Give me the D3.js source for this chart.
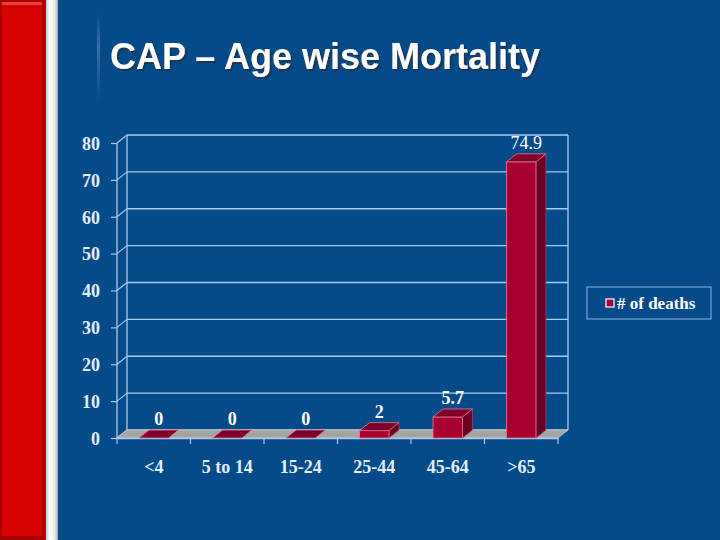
<!DOCTYPE html>
<html lang="en">
<head>
    <meta charset="UTF-8">
    <title>CAP - Age wise Mortality</title>
    <script src="https://d3js.org/d3.v7.min.js"></script>
    <style>
        body { margin: 0; background: #054a89; }
    </style>
</head>
<body>

<script>

    var categories = ["<4", "5 to 14", "15-24", "25-44", "45-64", ">65"];
    var deaths = [0, 0, 0, 2, 5.7, 74.9];
    var valueLabels = ["0", "0", "0", "2", "5.7", "74.9"];
    var yTicks = [0, 10, 20, 30, 40, 50, 60, 70, 80];
    var seriesName = "# of deaths";

    var W = 720, H = 540;
    var dx = 10, dy = -8;   // depth offset of the 3d box

    var svg = d3.select("body").append("svg")
        .attr("width", W).attr("height", H);

    // background
    svg.append("rect").attr("width", W).attr("height", H).attr("fill", "#054a89");

    var defs = svg.append("defs");
    var g1 = defs.append("linearGradient").attr("id", "sep").attr("x1", 0).attr("x2", 1);
    g1.append("stop").attr("offset", 0).attr("stop-color", "#c8c8c8");
    g1.append("stop").attr("offset", 0.3).attr("stop-color", "#ffffff");
    g1.append("stop").attr("offset", 0.7).attr("stop-color", "#f0f0f0");
    g1.append("stop").attr("offset", 1).attr("stop-color", "#a8a8a8");
    var g2 = defs.append("linearGradient").attr("id", "glow").attr("x1", 0).attr("x2", 0).attr("y1", 0).attr("y2", 1);
    g2.append("stop").attr("offset", 0).attr("stop-color", "#5a8cc0").attr("stop-opacity", 0);
    g2.append("stop").attr("offset", 0.4).attr("stop-color", "#5a8cc0").attr("stop-opacity", 0.6);
    g2.append("stop").attr("offset", 1).attr("stop-color", "#5a8cc0").attr("stop-opacity", 0);
    defs.append("filter").attr("id", "shadow")
        .append("feDropShadow").attr("dx", 2).attr("dy", 2).attr("stdDeviation", 0.6)
        .attr("flood-color", "#1e3550").attr("flood-opacity", 0.9);

    // red strip on the left
    svg.append("rect").attr("x", 0).attr("y", 0).attr("width", 46).attr("height", H).attr("fill", "#a80000");
    svg.append("rect").attr("x", 2).attr("y", 2).attr("width", 40).attr("height", H - 6).attr("fill", "#d60202");
    svg.append("rect").attr("x", 2).attr("y", 2).attr("width", 40).attr("height", 3).attr("fill", "#e84040");
    svg.append("rect").attr("x", 46).attr("y", 0).attr("width", 12).attr("height", H).attr("fill", "url(#sep)");
    svg.append("rect").attr("x", 97).attr("y", 12).attr("width", 3).attr("height", 90).attr("fill", "url(#glow)");

    // title
    svg.append("text").attr("x", 110).attr("y", 69)
        .attr("font-family", "Liberation Sans, Arial, sans-serif").attr("font-weight", "bold")
        .attr("font-size", 36).attr("fill", "#ffffff").attr("filter", "url(#shadow)")
        .text("CAP \u2013 Age wise Mortality");

    // scales (front plane)
    var x = d3.scaleBand().domain(categories).range([117, 558]);
    var y = d3.scaleLinear().domain([0, 80]).range([438, 143]);
    var barW = x.bandwidth() * 0.4;

    var gridColor = "#a9c9ee";
    var x0 = x.range()[0], x1 = x.range()[1];
    var serif = "Liberation Serif, Times New Roman, serif";

    // back wall gridlines
    svg.append("g").selectAll("line").data(yTicks).enter().append("line")
        .attr("x1", x0 + dx).attr("x2", x1 + dx)
        .attr("y1", function (d) { return y(d) + dy; })
        .attr("y2", function (d) { return y(d) + dy; })
        .attr("stroke", gridColor).attr("stroke-width", 1.3);
    // back wall right edge
    svg.append("line").attr("x1", x1 + dx).attr("x2", x1 + dx)
        .attr("y1", y(80) + dy).attr("y2", y(0) + dy)
        .attr("stroke", gridColor).attr("stroke-width", 1.3);
    // left wall
    svg.append("line").attr("x1", x0 + dx).attr("x2", x0 + dx)
        .attr("y1", y(80) + dy).attr("y2", y(0) + dy)
        .attr("stroke", gridColor).attr("stroke-width", 1.3);
    svg.append("line").attr("x1", x0).attr("x2", x0)
        .attr("y1", y(80)).attr("y2", y(0))
        .attr("stroke", gridColor).attr("stroke-width", 1.3);
    svg.append("g").selectAll("line").data(yTicks).enter().append("line")
        .attr("x1", x0).attr("x2", x0 + dx)
        .attr("y1", function (d) { return y(d); })
        .attr("y2", function (d) { return y(d) + dy; })
        .attr("stroke", gridColor).attr("stroke-width", 1.2);

    // floor
    svg.append("polygon")
        .attr("points", [[x0, y(0)], [x1, y(0)], [x1 + dx, y(0) + dy], [x0 + dx, y(0) + dy]].join(" "))
        .attr("fill", "#a4a4a4").attr("stroke", "#c8c8c8").attr("stroke-width", 0.8);

    // y axis on front plane
    var yAxis = svg.append("g").attr("transform", "translate(" + x0 + ",0)")
        .call(d3.axisLeft(y).tickValues(yTicks).tickSize(6).tickPadding(11));
    yAxis.select(".domain").remove();
    yAxis.selectAll("line").attr("stroke", gridColor).attr("stroke-width", 1.2);
    yAxis.selectAll("text")
        .attr("font-family", serif).attr("font-weight", "bold")
        .attr("font-size", 18).attr("fill", "#e4eef9").attr("dy", "0.35em");

    // x axis on front plane
    var xAxis = svg.append("g").attr("transform", "translate(0," + y(0) + ")")
        .call(d3.axisBottom(x).tickSize(0).tickPadding(22));
    xAxis.select(".domain").attr("stroke", gridColor).attr("stroke-width", 1.3);
    xAxis.selectAll("text")
        .attr("font-family", serif).attr("font-weight", "bold")
        .attr("font-size", 18).attr("fill", "#e4eef9");
    svg.append("g").selectAll("line").data(d3.range(categories.length + 1)).enter().append("line")
        .attr("x1", function (i) { return x0 + i * x.step(); })
        .attr("x2", function (i) { return x0 + i * x.step(); })
        .attr("y1", y(0)).attr("y2", y(0) + 6)
        .attr("stroke", gridColor).attr("stroke-width", 1.2);

    // bars
    var bars = svg.append("g").selectAll("g").data(deaths).enter().append("g");
    var edge = "#e37a9c";
    bars.each(function (v, i) {
        var g = d3.select(this);
        var xl = x(categories[i]) + (x.bandwidth() - barW) / 2;
        var xr = xl + barW;
        var yt = y(v), yb = y(0);
        if (v > 0) {
            g.append("polygon")
                .attr("points", [[xr, yt], [xr + dx, yt + dy], [xr + dx, yb + dy], [xr, yb]].join(" "))
                .attr("fill", "#6a001f").attr("stroke", "#b04068").attr("stroke-width", 0.8);
            g.append("rect").attr("x", xl).attr("y", yt).attr("width", barW).attr("height", yb - yt)
                .attr("fill", "#a8002f").attr("stroke", edge).attr("stroke-width", 0.8);
        }
        g.append("polygon")
            .attr("points", [[xl, yt], [xr, yt], [xr + dx, yt + dy], [xl + dx, yt + dy]].join(" "))
            .attr("fill", "#7e0028").attr("stroke", edge).attr("stroke-width", 0.8);
        g.append("text")
            .attr("x", (xl + xr) / 2 + dx / 2).attr("y", yt + dy - 5)
            .attr("text-anchor", "middle")
            .attr("font-family", serif)
            .attr("font-weight", i === 5 ? "normal" : "bold")
            .attr("font-size", 18).attr("fill", "#ffffff")
            .text(valueLabels[i]);
    });

    // legend
    var lg = svg.append("g").attr("transform", "translate(587,287)");
    lg.append("rect").attr("width", 124).attr("height", 32)
        .attr("fill", "none").attr("stroke", "#8fb4e0").attr("stroke-width", 1);
    lg.append("rect").attr("x", 19).attr("y", 12).attr("width", 8).attr("height", 8)
        .attr("fill", "#a8002f").attr("stroke", "#ffffff").attr("stroke-width", 1.2);
    lg.append("text").attr("x", 30).attr("y", 22)
        .attr("font-family", serif).attr("font-weight", "bold")
        .attr("font-size", 17).attr("fill", "#ffffff").text(seriesName);

</script>

</body>
</html>
